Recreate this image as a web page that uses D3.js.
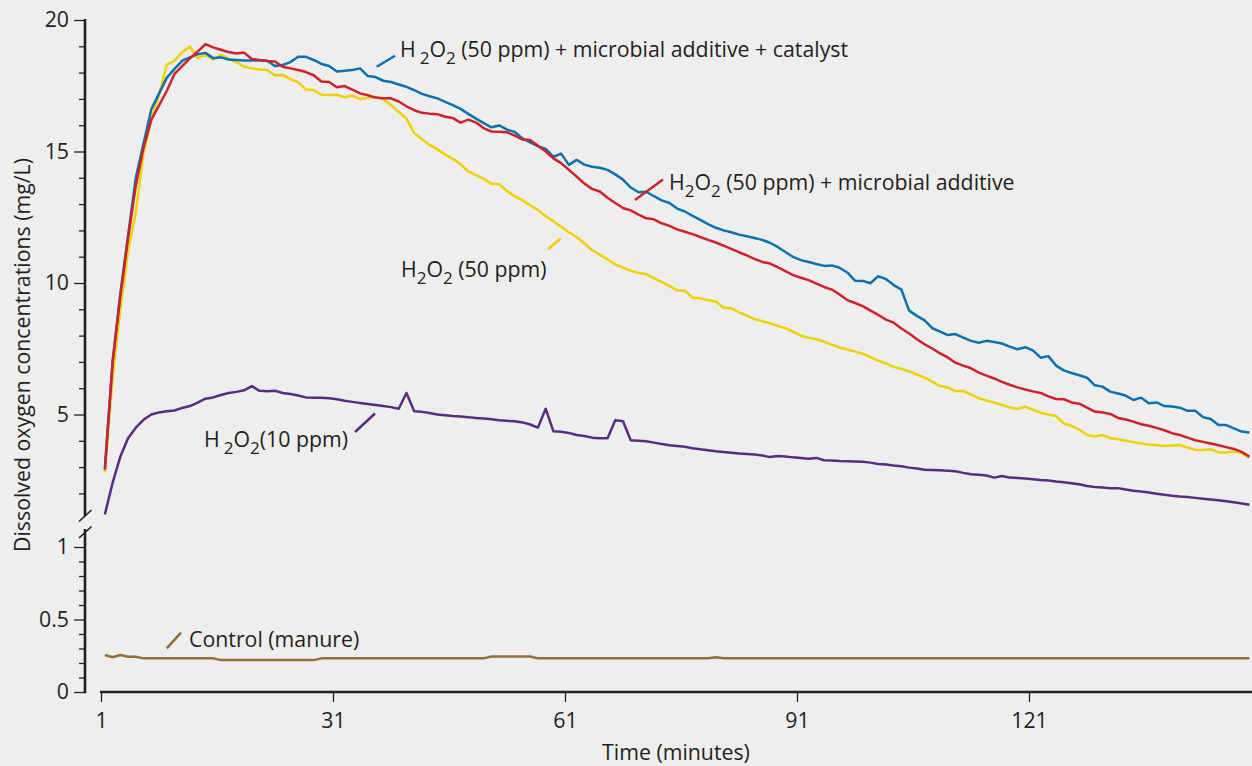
<!DOCTYPE html>
<html><head><meta charset="utf-8">
<script src="https://cdn.jsdelivr.net/npm/d3@7"></script>
<style>
html,body{margin:0;padding:0;background:#eeeeee;}
svg{display:block;font-family:"Open Sans",sans-serif;}
</style></head><body>
<svg id="chart" width="1252" height="766"></svg>
<script>
// ---------- DATA ----------
const minutes = d3.range(1.5, 150, 1); // sampling times (149 points)
const xTickValues = [1, 31, 61, 91, 121];
const upperMajorTicks = [5, 10, 15, 20];
const upperMinorTicks = [2,3,4,6,7,8,9,11,12,13,14,16,17,18,19];
const lowerMajorTicks = [0, 0.5, 1];
const lowerMinorTicks = [0.1,0.2,0.3,0.4,0.6,0.7,0.8,0.9];

const catalyst = [2.95,7.0,9.6,11.8,14.0,15.3,16.6,17.2,17.8,18.14,18.45,18.58,18.7,18.75,18.55,18.58,18.5,18.48,18.46,18.46,
18.47,18.45,18.25,18.29,18.4,18.6,18.6,18.48,18.33,18.25,18.04,18.07,18.1,18.16,17.87,17.83,17.69,17.64,17.55,17.46,
17.33,17.19,17.1,17.02,16.89,16.76,16.62,16.43,16.25,16.08,15.92,15.99,15.83,15.74,15.5,15.35,15.2,15.1,14.8,14.92,
14.49,14.68,14.5,14.42,14.38,14.3,14.13,13.93,13.63,13.45,13.47,13.3,13.14,13.04,12.83,12.72,12.55,12.4,12.24,12.1,
12.0,11.93,11.84,11.78,11.71,11.64,11.53,11.37,11.18,10.99,10.87,10.8,10.72,10.65,10.67,10.58,10.4,10.09,10.08,9.99,
10.26,10.15,9.92,9.75,8.95,8.75,8.58,8.28,8.15,8.02,8.06,7.92,7.8,7.73,7.8,7.76,7.7,7.58,7.48,7.56,
7.44,7.16,7.22,6.86,6.68,6.58,6.49,6.4,6.11,6.06,5.87,5.8,5.72,5.55,5.64,5.43,5.46,5.32,5.3,5.26,
5.14,5.14,4.9,4.83,4.6,4.6,4.47,4.35,4.32];

const microbial = [2.9,7.0,9.5,11.7,13.7,15.15,16.2,16.75,17.3,17.95,18.25,18.54,18.8,19.08,18.96,18.87,18.78,18.73,18.76,18.52,
18.48,18.44,18.42,18.22,18.16,18.1,18.02,17.9,17.66,17.64,17.44,17.49,17.35,17.21,17.14,17.05,17.02,17.02,16.9,16.72,
16.57,16.47,16.44,16.42,16.32,16.27,16.1,16.21,16.1,15.88,15.76,15.75,15.73,15.6,15.46,15.44,15.22,15.0,14.74,14.56,
14.3,14.05,13.78,13.58,13.48,13.24,13.04,12.85,12.76,12.6,12.46,12.42,12.27,12.17,12.04,11.95,11.86,11.75,11.64,11.54,
11.42,11.3,11.17,11.05,10.92,10.8,10.74,10.6,10.45,10.3,10.2,10.11,9.98,9.85,9.75,9.56,9.35,9.24,9.12,8.95,
8.79,8.61,8.49,8.27,8.08,7.86,7.67,7.51,7.32,7.17,6.97,6.86,6.76,6.59,6.48,6.37,6.24,6.13,6.03,5.95,
5.88,5.82,5.69,5.59,5.58,5.46,5.41,5.26,5.11,5.08,5.02,4.87,4.81,4.73,4.63,4.57,4.49,4.4,4.29,4.22,
4.12,4.02,3.96,3.9,3.83,3.76,3.69,3.58,3.4];

const h2o2_50 = [2.8,6.4,9.0,11.2,12.7,14.95,16.2,17.15,18.3,18.45,18.78,18.99,18.55,18.68,18.5,18.68,18.52,18.4,18.23,18.16,
18.12,18.1,17.9,17.91,17.75,17.63,17.36,17.34,17.16,17.15,17.16,17.06,17.13,16.99,17.04,17.08,16.98,16.77,16.5,16.25,
15.7,15.47,15.25,15.08,14.88,14.72,14.52,14.24,14.1,13.96,13.77,13.76,13.5,13.3,13.15,12.95,12.78,12.55,12.35,12.14,
11.93,11.75,11.5,11.25,11.08,10.9,10.71,10.59,10.47,10.38,10.34,10.18,10.04,9.89,9.72,9.71,9.44,9.42,9.34,9.3,
9.06,9.04,8.88,8.76,8.63,8.55,8.47,8.37,8.28,8.15,8.0,7.92,7.86,7.77,7.65,7.55,7.47,7.39,7.31,7.18,
7.05,6.94,6.81,6.73,6.64,6.52,6.4,6.25,6.08,6.03,5.88,5.9,5.76,5.62,5.53,5.45,5.36,5.27,5.21,5.3,
5.18,5.07,5.0,4.94,4.66,4.57,4.42,4.23,4.16,4.22,4.1,4.06,4.0,3.95,3.9,3.86,3.83,3.8,3.82,3.84,
3.74,3.66,3.65,3.68,3.56,3.55,3.59,3.54,3.35];

const h2o2_10 = [1.2,2.4,3.4,4.1,4.5,4.8,5.0,5.08,5.12,5.15,5.25,5.32,5.45,5.6,5.65,5.74,5.82,5.86,5.92,6.08,
5.9,5.88,5.9,5.82,5.78,5.72,5.65,5.64,5.64,5.62,5.58,5.52,5.48,5.44,5.4,5.36,5.32,5.28,5.22,5.82,
5.12,5.1,5.06,5.0,4.97,4.94,4.92,4.9,4.87,4.85,4.82,4.78,4.76,4.74,4.7,4.62,4.5,5.22,4.36,4.34,
4.3,4.22,4.18,4.12,4.1,4.1,4.78,4.74,4.02,4.0,3.98,3.93,3.88,3.83,3.8,3.77,3.72,3.68,3.64,3.6,
3.57,3.55,3.52,3.5,3.48,3.44,3.38,3.42,3.4,3.37,3.35,3.32,3.35,3.26,3.25,3.23,3.22,3.21,3.2,3.17,
3.12,3.1,3.06,3.03,2.98,2.95,2.9,2.89,2.88,2.86,2.84,2.78,2.73,2.71,2.68,2.6,2.66,2.6,2.59,2.57,
2.54,2.51,2.49,2.45,2.42,2.39,2.35,2.28,2.24,2.22,2.2,2.2,2.15,2.1,2.07,2.03,1.99,1.95,1.91,1.88,
1.86,1.83,1.8,1.77,1.74,1.7,1.66,1.62,1.57];

const control = [0.255,0.24,0.255,0.243,0.243,0.232,0.232,0.232,0.232,0.232,0.232,0.232,0.232,0.232,0.232,0.22,0.22,0.22,0.22,0.22,
0.22,0.22,0.22,0.22,0.22,0.22,0.22,0.22,0.232,0.232,0.232,0.232,0.232,0.232,0.232,0.232,0.232,0.232,0.232,0.232,
0.232,0.232,0.232,0.232,0.232,0.232,0.232,0.232,0.232,0.232,0.245,0.245,0.245,0.245,0.245,0.245,0.232,0.232,0.232,0.232,
0.232,0.232,0.232,0.232,0.232,0.232,0.232,0.232,0.232,0.232,0.232,0.232,0.232,0.232,0.232,0.232,0.232,0.232,0.232,0.24,
0.232,0.232,0.232,0.232,0.232,0.232,0.232,0.232,0.232,0.232,0.232,0.232,0.232,0.232,0.232,0.232,0.232,0.232,0.232,0.232,
0.232,0.232,0.232,0.232,0.232,0.232,0.232,0.232,0.232,0.232,0.232,0.232,0.232,0.232,0.232,0.232,0.232,0.232,0.232,0.232,
0.232,0.232,0.232,0.232,0.232,0.232,0.232,0.232,0.232,0.232,0.232,0.232,0.232,0.232,0.232,0.232,0.232,0.232,0.232,0.232,
0.232,0.232,0.232,0.232,0.232,0.232,0.232,0.232,0.232];

const colors = {catalyst:"#0a71b3", microbial:"#d0202a", h2o2_50:"#f0d100", h2o2_10:"#5a2b85", control:"#946d37"};
const ink = "#231f20";

// ---------- SCALES ----------
const svg = d3.select("#chart");
const x = d3.scaleLinear().domain([1, 121]).range([101, 1029]);
const yU = d3.scaleLinear().domain([5, 20]).range([414.5, 20]);
const yL = d3.scaleLinear().domain([0, 1]).range([692, 547]);
const FS = 21.3;

// ---------- AXES ----------
function styleAxis(g){
  g.select(".domain").remove();
  g.selectAll(".tick line").attr("stroke", ink).attr("stroke-width", 1.3);
  g.selectAll(".tick text").attr("fill", ink).attr("font-size", FS).attr("font-family", '"Open Sans",sans-serif');
}
// upper y
svg.append("g").attr("transform","translate(85,0)")
  .call(d3.axisLeft(yU).tickValues(upperMinorTicks).tickSize(6).tickFormat(""))
  .call(styleAxis);
svg.append("g").attr("transform","translate(85,0)")
  .call(d3.axisLeft(yU).tickValues(upperMajorTicks).tickSize(11).tickPadding(5))
  .call(styleAxis);
// lower y
svg.append("g").attr("transform","translate(85,0)")
  .call(d3.axisLeft(yL).tickValues(lowerMinorTicks).tickSize(6).tickFormat(""))
  .call(styleAxis);
svg.append("g").attr("transform","translate(85,0)")
  .call(d3.axisLeft(yL).tickValues(lowerMajorTicks).tickSize(11).tickPadding(5).tickFormat(d => d===0.5 ? "0.5" : d))
  .call(styleAxis);
// y axis lines (broken)
svg.append("line").attr("x1",85).attr("x2",85).attr("y1",yU(20)-1).attr("y2",516)
  .attr("stroke",ink).attr("stroke-width",2.6);
svg.append("line").attr("x1",85).attr("x2",85).attr("y1",529).attr("y2",yL(0)+1.2)
  .attr("stroke",ink).attr("stroke-width",2.6);
// break marks
[[521.5,510],[538,526.5]].forEach(([a,b])=>{
  svg.append("line").attr("x1",79).attr("y1",a).attr("x2",91.5).attr("y2",b)
    .attr("stroke",ink).attr("stroke-width",1.6);
});
// x axis
svg.append("g").attr("transform",`translate(0,${yL(0)})`)
  .call(d3.axisBottom(x).tickValues(xTickValues).tickSize(10).tickPadding(11))
  .call(styleAxis);
svg.append("line").attr("x1",100).attr("x2",1252).attr("y1",yL(0)).attr("y2",yL(0))
  .attr("stroke",ink).attr("stroke-width",2.6);

// axis titles
svg.append("text").attr("x",676).attr("y",760).attr("text-anchor","middle")
  .attr("font-size",FS).attr("fill",ink).text("Time (minutes)");
svg.append("text").attr("transform","translate(30,355) rotate(-90)").attr("text-anchor","middle")
  .attr("font-size",FS).attr("fill",ink).text("Dissolved oxygen concentrations (mg/L)");

// ---------- LINES ----------
const lineU = d3.line().x((d,i)=>x(minutes[i])).y(d=>yU(d));
const lineL = d3.line().x((d,i)=>x(minutes[i])).y(d=>yL(d));
const upperSeries = [["h2o2_10",h2o2_10],["h2o2_50",h2o2_50],["catalyst",catalyst],["microbial",microbial]];
upperSeries.forEach(([k,v])=>{
  svg.append("path").datum(v).attr("d",lineU).attr("fill","none")
    .attr("stroke",colors[k]).attr("stroke-width",2.5).attr("stroke-linejoin","round");
});
svg.append("path").datum(control).attr("d",lineL).attr("fill","none")
  .attr("stroke",colors.control).attr("stroke-width",2.5).attr("stroke-linejoin","round");

// ---------- LABELS ----------
function h2o2Label(xp, yp, gapH, rest){
  const t = svg.append("text").attr("x",xp).attr("y",yp).attr("font-size",FS).attr("fill",ink);
  t.append("tspan").text("H");
  t.append("tspan").attr("dx",gapH).attr("dy",7).attr("font-size",FS*0.8).text("2");
  t.append("tspan").attr("dy",-7).text("O");
  t.append("tspan").attr("dy",7).attr("font-size",FS*0.8).text("2");
  t.append("tspan").attr("dy",-7).text(rest);
  return t;
}
function leader(x1,y1,x2,y2,c){
  svg.append("line").attr("x1",x1).attr("y1",y1).attr("x2",x2).attr("y2",y2)
    .attr("stroke",c).attr("stroke-width",2.5);
}
h2o2Label(400, 57, 4, " (50 ppm) + microbial additive + catalyst");
leader(376.7,66.7,395,55.7,colors.catalyst);
h2o2Label(669, 190, 0, "  (50 ppm) + microbial additive");
leader(635,200,663,179.5,colors.microbial);
h2o2Label(401, 277, 0, " (50 ppm)");
leader(548.3,249.3,560.7,238.3,colors.h2o2_50);
h2o2Label(204, 447, 4, "(10 ppm)");
leader(355,432,375,413.5,colors.h2o2_10);
svg.append("text").attr("x",189).attr("y",646.5).attr("font-size",FS).attr("fill",ink).text("Control (manure)");
leader(166.7,648.3,181,632.7,colors.control);
</script>
</body></html>
